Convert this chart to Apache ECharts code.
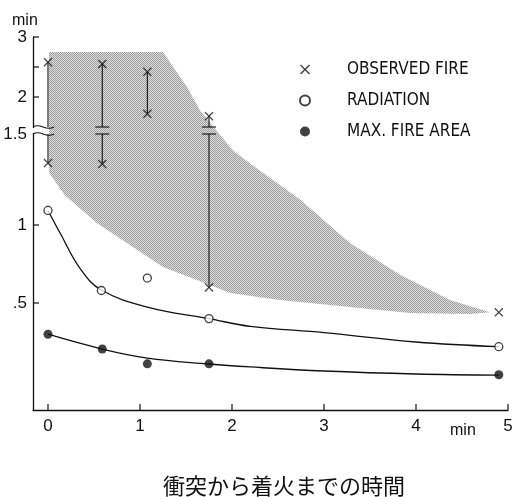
<!DOCTYPE html>
<html lang="ja">
<head>
<meta charset="UTF-8">
<title>衝突から着火までの時間</title>
<script src="https://cdn.jsdelivr.net/npm/echarts@6/dist/echarts.min.js"></script>
<style>
html, body { margin: 0; padding: 0; background: #fff; }
#main { width: 514px; height: 497px; }
</style>
</head>
<body>
<div id="main"></div>
<script>
// observed fire (x marks), in minutes
var obsTime  = [0, 0, 0.59, 0.59, 1.08, 1.08, 1.75, 1.75, 4.9];
var obsValue = [2.58, 1.34, 2.55, 1.335, 2.42, 1.72, 1.68, 0.6, 0.44];
// vertical spread of observations
var rangeTime = [0, 0.59, 1.08, 1.75];
var rangeHigh = [2.58, 2.55, 2.42, 1.68];
var rangeLow  = [1.34, 1.335, 1.72, 0.6];
// radiation
var radTime  = [0, 0.58, 1.08, 1.75, 4.9];
var radValue = [1.08, 0.58, 0.66, 0.40, 0.22];
var radFitTime  = [0, 0.13, 0.35, 0.58, 1.08, 1.75, 2.2, 3.0, 4.0, 4.9];
var radFitValue = [1.08, 0.95, 0.72, 0.583, 0.474, 0.40, 0.35, 0.31, 0.25, 0.22];
// max. fire area
var areaTime  = [0, 0.59, 1.08, 1.75, 4.9];
var areaValue = [0.30, 0.205, 0.11, 0.11, 0.04];
var areaFitTime  = [0, 0.59, 1.08, 1.75, 2.2, 3.0, 4.0, 4.9];
var areaFitValue = [0.30, 0.205, 0.147, 0.109, 0.09, 0.064, 0.045, 0.038];
// shaded band outline (clockwise)
var shadeTime  = [0.01, 1.25, 1.36, 1.51, 1.65, 2.01, 2.30, 2.74, 3.28, 3.83, 4.37, 4.80,
                  4.59, 3.93, 3.28, 2.52, 1.98, 1.62, 1.25, 0.89, 0.53, 0.18, 0.01];
var shadeValue = [2.75, 2.75, 2.50, 2.17, 1.78, 1.41, 1.30, 1.14, 0.885, 0.68, 0.52, 0.44,
                  0.43, 0.436, 0.474, 0.519, 0.564, 0.647, 0.731, 0.872, 1.011, 1.165, 1.29];
// axes
var xTicks = [0, 1, 2, 3, 4, 5];
var yTickMarks = [3, 2.5, 2, 1, 0.5];
var yLabelValues = [3, 2, 1.5, 1, 0.5];
var yLabelTexts = ['3', '2', '1.5', '1', '.5'];
var legendNames = ['OBSERVED FIRE', 'RADIATION', 'MAX. FIRE AREA'];

// broken, uneven y scale: minutes -> axis position
var breakValue = 1.5;
var hiScale = [[1.5, 283], [3, 373]];
var loScale = [[0.5, 107], [1, 185], [1.5, 276]];
function toAxis(v, hi) {
    if (hi === undefined) hi = v > breakValue;
    var s = hi ? hiScale : loScale;
    var i = 0;
    while (i < s.length - 2 && v > s[i + 1][0]) i++;
    var a = s[i], b = s[i + 1];
    return a[1] + (v - a[0]) * (b[1] - a[1]) / (b[0] - a[0]);
}
function pts(ts, vs) {
    return ts.map(function (t, i) { return [t, toAxis(vs[i])]; });
}

var xMin = -0.163, xMax = 5;
var yMax = toAxis(3);
var yLabelPos = yLabelValues.map(function (v) { return toAxis(v, v > breakValue); });

// stipple pattern for the band
var tile = document.createElement('canvas');
tile.width = 2; tile.height = 2;
var tc = tile.getContext('2d');
tc.fillStyle = '#dedede'; tc.fillRect(0, 0, 2, 2);
tc.fillStyle = '#9c9c9c'; tc.fillRect(0, 0, 1, 1); tc.fillRect(1, 1, 1, 1);

var xMark = 'path://M0,1 L1,0 L5,4 L9,0 L10,1 L6,5 L10,9 L9,10 L5,6 L1,10 L0,9 L4,5 Z';
var lineCol = '#111';
var tickLen = 6;

var chart = echarts.init(document.getElementById('main'));
var option = {
    animation: false,
    backgroundColor: '#fff',
    grid: { left: 33, right: 6, top: 37, bottom: 87, outerBoundsMode: 'none' },
    xAxis: {
        type: 'value', min: xMin, max: xMax,
        axisLine: { onZero: false, lineStyle: { color: lineCol, width: 1.3 } },
        axisTick: { show: false },
        axisLabel: { customValues: xTicks, margin: 8, fontSize: 17, color: '#111', fontFamily: 'Liberation Sans' },
        splitLine: { show: false }
    },
    yAxis: {
        type: 'value', min: 0, max: yMax,
        axisLine: { show: true, onZero: false, lineStyle: { color: lineCol, width: 1.3 } },
        axisTick: { show: false },
        axisLabel: {
            customValues: yLabelPos, margin: 6, fontSize: 17, color: '#111', fontFamily: 'Liberation Sans',
            formatter: function (val) {
                for (var i = 0; i < yLabelPos.length; i++) {
                    if (Math.abs(yLabelPos[i] - val) < 0.5) return yLabelTexts[i];
                }
                return '';
            }
        },
        splitLine: { show: false }
    },
    legend: {
        orient: 'vertical', left: 294, top: 56,
        itemWidth: 12, itemHeight: 10, itemGap: 14,
        data: legendNames,
        textStyle: { fontSize: 17, color: '#111', fontFamily: '"DejaVu Sans Condensed", "DejaVu Sans"', padding: [0, 0, 0, 31] }
    },
    graphic: [
        { type: 'text', left: 12, top: 13, style: { text: 'min', fill: '#111', font: '16px "Liberation Sans"' } },
        { type: 'text', left: 450, top: 423, style: { text: 'min', fill: '#111', font: '16px "Liberation Sans"' } },
        { type: 'text', left: 163, top: 475, style: { text: '衝突から着火までの時間', fill: '#111', font: '22px "Noto Sans CJK JP"' } }
    ],
    series: [
        {
            type: 'custom', name: 'band', silent: true, z: 1, clip: false,
            data: [[0, 0]],
            renderItem: function (params, api) {
                var p = shadeTime.map(function (t, i) { return api.coord([t, toAxis(shadeValue[i])]); });
                return { type: 'polygon', shape: { points: p }, style: { fill: { image: tile, repeat: 'repeat' } } };
            }
        },
        {
            // inward ticks on both axes
            type: 'custom', name: 'ticks', silent: true, z: 4, clip: false,
            data: [[0, 0]],
            renderItem: function (params, api) {
                var st = { stroke: lineCol, lineWidth: 1.2 };
                var kids = [];
                xTicks.forEach(function (t) {
                    var p = api.coord([t, 0]);
                    kids.push({ type: 'line', shape: { x1: p[0], y1: p[1], x2: p[0], y2: p[1] - tickLen }, style: st });
                });
                yTickMarks.forEach(function (v) {
                    var p = api.coord([xMin, toAxis(v)]);
                    kids.push({ type: 'line', shape: { x1: p[0], y1: p[1], x2: p[0] + tickLen, y2: p[1] }, style: st });
                });
                return { type: 'group', children: kids };
            }
        },
        {
            type: 'custom', name: 'ranges', silent: true, z: 3, clip: false,
            data: rangeTime.map(function (t, i) { return [t, i]; }),
            renderItem: function (params, api) {
                var i = params.dataIndex;
                var t = rangeTime[i], hv = rangeHigh[i], lv = rangeLow[i];
                var top = api.coord([t, toAxis(hv)]);
                var bot = api.coord([t, toAxis(lv)]);
                var st = { stroke: lineCol, lineWidth: 1.1 };
                var kids = [];
                if (!(hv > breakValue && lv <= breakValue)) {
                    kids.push({ type: 'line', shape: { x1: top[0], y1: top[1], x2: bot[0], y2: bot[1] }, style: st });
                } else {
                    var bh = api.coord([t, toAxis(breakValue, true)]);
                    var bl = api.coord([t, toAxis(breakValue, false)]);
                    kids.push({ type: 'line', shape: { x1: top[0], y1: top[1], x2: bh[0], y2: bh[1] }, style: st });
                    kids.push({ type: 'line', shape: { x1: bl[0], y1: bl[1], x2: bot[0], y2: bot[1] }, style: st });
                    if (t > 0.1) {
                        kids.push({ type: 'line', shape: { x1: bh[0] - 7, y1: bh[1], x2: bh[0] + 7, y2: bh[1] }, style: st });
                        kids.push({ type: 'line', shape: { x1: bl[0] - 7, y1: bl[1], x2: bl[0] + 7, y2: bl[1] }, style: st });
                    }
                }
                return { type: 'group', children: kids };
            }
        },
        {
            type: 'custom', name: 'axisBreak', silent: true, z: 4, clip: false,
            data: [[xMin, breakValue]],
            renderItem: function (params, api) {
                var a = api.coord([xMin, toAxis(breakValue, true)]);
                var b = api.coord([xMin, toAxis(breakValue, false)]);
                var st = { stroke: lineCol, lineWidth: 1.1, fill: null };
                function wave(x, y) {
                    return { type: 'bezierCurve', shape: { x1: x, y1: y, cpx1: x + 8, cpy1: y - 5, cpx2: x + 12, cpy2: y + 5, x2: x + 21, y2: y }, style: st };
                }
                return {
                    type: 'group', children: [
                        { type: 'rect', shape: { x: a[0] - 3, y: a[1] + 1, width: 6, height: b[1] - a[1] - 2 }, style: { fill: '#fff' } },
                        wave(a[0], a[1]),
                        wave(b[0], b[1])
                    ]
                };
            }
        },
        {
            type: 'line', name: 'radFit', data: pts(radFitTime, radFitValue), smooth: 0.4,
            showSymbol: false, silent: true, z: 3,
            lineStyle: { color: lineCol, width: 1.3 }
        },
        {
            type: 'line', name: 'areaFit', data: pts(areaFitTime, areaFitValue), smooth: 0.4,
            showSymbol: false, silent: true, z: 3,
            lineStyle: { color: lineCol, width: 1.3 }
        },
        {
            type: 'scatter', name: legendNames[0], data: pts(obsTime, obsValue), z: 5,
            symbol: xMark, symbolSize: 9, itemStyle: { color: lineCol }
        },
        {
            type: 'scatter', name: legendNames[1], data: pts(radTime, radValue), z: 5,
            symbol: 'circle', symbolSize: 8,
            itemStyle: { color: '#fff', borderColor: lineCol, borderWidth: 1.3 }
        },
        {
            type: 'scatter', name: legendNames[2], data: pts(areaTime, areaValue), z: 5,
            symbol: 'circle', symbolSize: 9, itemStyle: { color: lineCol }
        }
    ]
};
chart.setOption(option);
</script>
</body>
</html>
